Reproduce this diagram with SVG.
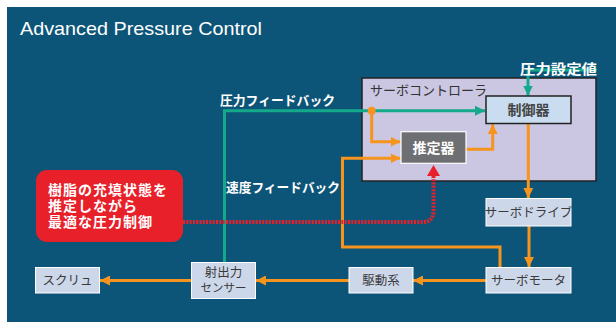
<svg xmlns="http://www.w3.org/2000/svg" width="616" height="322" viewBox="0 0 616 322">
<defs>
<style>
.jp{font-family:"Noto Sans CJK JP","Noto Sans",sans-serif}
.wl{fill:#ffffff;font-weight:700;font-size:13px}
.bx{fill:#cdd7ea;stroke:#ffffff;stroke-width:1}
.bt{fill:#3a3a3a;font-size:12.5px;text-anchor:middle}
.nt{fill:#ffffff;font-weight:700;font-size:14px;letter-spacing:1px}
.or{fill:none;stroke:#f7941d;stroke-width:3}
.gr{fill:none;stroke:#15a98c;stroke-width:3}
</style>
<marker id="ao" markerUnits="userSpaceOnUse" viewBox="0 0 10 10" refX="10" refY="5" markerWidth="10" markerHeight="10" orient="auto"><path d="M0,0 L10,5 L0,10 z" fill="#f7941d"/></marker>
<marker id="ag" markerUnits="userSpaceOnUse" viewBox="0 0 10 10" refX="10" refY="5" markerWidth="10" markerHeight="10" orient="auto"><path d="M0,0 L10,5 L0,10 z" fill="#15a98c"/></marker>
</defs>
<rect x="0" y="0" width="616" height="322" fill="#ffffff"/>
<rect x="7" y="7" width="609" height="315" fill="#0d5578"/>
<text x="20" y="35" font-family="Liberation Sans, Arial, sans-serif" font-size="19" fill="#ffffff" textLength="242" lengthAdjust="spacingAndGlyphs">Advanced Pressure Control</text>

<g id="controller">
<rect x="362" y="78" width="234" height="103" fill="#cbc6e2" stroke="#222222" stroke-width="1.5"/>
<text class="jp" x="370" y="95" font-size="13" fill="#333333">サーボコントローラ</text>
</g>

<g id="connectors">
<path class="gr" d="M224.5,262 V110.7 H485" marker-end="url(#ag)"/>
<path class="gr" d="M597,70 H528 V95.5" marker-end="url(#ag)"/>
<path class="or" d="M371.7,110.7 V141.7 H400.5" marker-end="url(#ao)"/>
<path class="or" d="M500,267 V247 H342.5 V158.3 H400.5" marker-end="url(#ao)"/>
<path class="or" d="M466,149.3 H492.7 V124" marker-end="url(#ao)"/>
<path class="or" d="M528.3,124 V198" marker-end="url(#ao)"/>
<path class="or" d="M529,226 V267" marker-end="url(#ao)"/>
<path class="or" d="M486,280.5 H413" marker-end="url(#ao)"/>
<path class="or" d="M349,280.5 H256" marker-end="url(#ao)"/>
<path class="or" d="M191,280.5 H100" marker-end="url(#ao)"/>
<circle cx="371.7" cy="110.7" r="4" fill="#f7941d"/>
<path d="M183,222 H423 Q433.5,222 433.5,211 V176" fill="none" stroke="#e8202a" stroke-width="4" stroke-dasharray="2 1.3"/>
<polygon points="427,176 440,176 433.5,165" fill="#e8202a"/>
</g>

<g id="labels">
<text class="jp" x="520" y="74" font-size="14" font-weight="700" fill="#ffffff" textLength="77" lengthAdjust="spacingAndGlyphs">圧力設定値</text>
<text class="jp wl" x="220" y="105" textLength="115" lengthAdjust="spacingAndGlyphs">圧力フィードバック</text>
<text class="jp wl" x="226" y="192" textLength="114" lengthAdjust="spacingAndGlyphs">速度フィードバック</text>
</g>

<g id="seigyoki">
<rect x="486" y="96" width="85" height="27.5" fill="#c9dcf0" stroke="#222222" stroke-width="1.5"/>
<text class="jp" x="528.5" y="115" font-size="14" font-weight="700" fill="#444444" text-anchor="middle">制御器</text>
</g>

<g id="suiteiki">
<rect x="401" y="131.7" width="65" height="31.6" fill="#6e6f72" stroke="#ffffff" stroke-width="1.2"/>
<text class="jp" x="433.5" y="152.5" font-size="14" font-weight="700" fill="#ffffff" text-anchor="middle">推定器</text>
</g>

<g id="note">
<rect x="36" y="170" width="147" height="72" rx="11" fill="#e8202a"/>
<text class="jp nt" x="48" y="195"><tspan x="48" y="195">樹脂の充填状態を</tspan><tspan x="48" y="211">推定しながら</tspan><tspan x="48" y="227">最適な圧力制御</tspan></text>
</g>

<g id="servodrive">
<rect class="bx" x="486" y="198.5" width="85" height="27.5"/>
<text class="jp bt" x="528.5" y="217">サーボドライブ</text>
</g>

<g id="servomotor">
<rect class="bx" x="486" y="267.5" width="85" height="25.5"/>
<text class="jp bt" x="528.5" y="285">サーボモータ</text>
</g>

<g id="kudoukei">
<rect class="bx" x="349" y="267.5" width="64" height="25.5"/>
<text class="jp bt" x="381" y="285">駆動系</text>
</g>

<g id="sensor">
<rect class="bx" x="191.5" y="262.5" width="64" height="36"/>
<text class="jp bt" x="223.5" y="277" font-size="12"><tspan x="223.5" y="277">射出力</tspan><tspan x="223.5" y="292" font-size="11.5">センサー</tspan></text>
</g>

<g id="screw">
<rect class="bx" x="35.5" y="267.5" width="64" height="25.5"/>
<text class="jp bt" x="67.5" y="285">スクリュ</text>
</g>
</svg>
